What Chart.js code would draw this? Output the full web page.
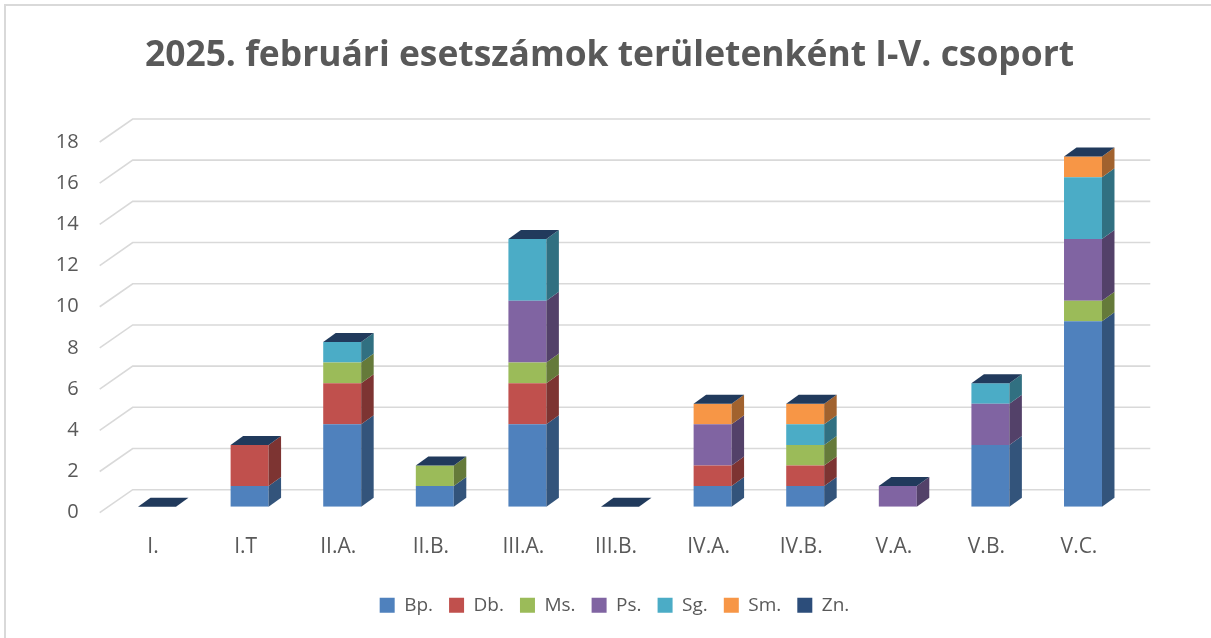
<!DOCTYPE html>
<html>
<head>
<meta charset="utf-8">
<script src="https://cdn.jsdelivr.net/npm/chart.js@4.4.1/dist/chart.umd.min.js"></script>
<style>
  html, body { margin: 0; padding: 0; background: #ffffff; }
  #wrap { position: relative; width: 1211px; height: 638px; }
</style>
</head>
<body>
<div id="wrap"><canvas id="c"></canvas></div>
<script>
// ---- data ----
const categories = ['I.', 'I.T', 'II.A.', 'II.B.', 'III.A.', 'III.B.', 'IV.A.', 'IV.B.', 'V.A.', 'V.B.', 'V.C.'];
const seriesNames = ['Bp.', 'Db.', 'Ms.', 'Ps.', 'Sg.', 'Sm.', 'Zn.'];
const bp = [0, 1, 4, 1, 4, 0, 1, 1, 0, 3, 9];
const db = [0, 2, 2, 0, 2, 0, 1, 1, 0, 0, 0];
const ms = [0, 0, 1, 1, 1, 0, 0, 1, 0, 0, 1];
const ps = [0, 0, 0, 0, 3, 0, 2, 0, 1, 2, 3];
const sg = [0, 0, 1, 0, 3, 0, 0, 1, 0, 1, 3];
const sm = [0, 0, 0, 0, 0, 0, 1, 1, 0, 0, 1];
const zn = [0, 0, 0, 0, 0, 0, 0, 0, 0, 0, 0];
const yTicks = [0, 2, 4, 6, 8, 10, 12, 14, 16, 18];
const titleText = '2025. februári esetszámok területenként I-V. csoport';

// ---- styles ----
const colors = ['#4F81BD', '#C0504D', '#9BBB59', '#8064A2', '#4BACC6', '#F79646', '#2C4D7A'];
const topCapColor = '#213A5C';
const DX = 12.5, DY = 9;
const LEGEND_SHIFT_Y = 7.5;
const LEGEND_SHIFT_X = 5;

function darken(hex, f) {
  const n = parseInt(hex.slice(1), 16);
  const r = Math.round(((n >> 16) & 255) * f);
  const g = Math.round(((n >> 8) & 255) * f);
  const b = Math.round((n & 255) * f);
  return 'rgb(' + r + ',' + g + ',' + b + ')';
}

const values = [bp, db, ms, ps, sg, sm, zn];
const datasets = seriesNames.map((name, i) => ({
  label: name,
  data: values[i],
  backgroundColor: colors[i],
  borderWidth: 0,
  categoryPercentage: 1.0,
  barPercentage: 0.41
}));

const bgPlugin = {
  id: 'bg',
  afterLayout(chart) {
    if (chart.legend) {
      chart.legend.top -= LEGEND_SHIFT_Y;
      chart.legend.bottom -= LEGEND_SHIFT_Y;
      chart.legend.left += LEGEND_SHIFT_X;
      chart.legend.right += LEGEND_SHIFT_X;
    }
  },
  beforeDraw(chart) {
    const ctx = chart.ctx;
    ctx.save();
    ctx.fillStyle = '#ffffff';
    ctx.fillRect(0, 0, chart.width, chart.height);
    ctx.strokeStyle = '#D9D9D9';
    ctx.lineWidth = 2;
    ctx.beginPath();
    ctx.moveTo(5, chart.height);
    ctx.lineTo(5, 5);
    ctx.lineTo(chart.width, 5);
    ctx.stroke();
    ctx.restore();
  }
};

const gridPlugin = {
  id: 'grid3d',
  beforeDatasetsDraw(chart) {
    const ctx = chart.ctx;
    const ys = chart.scales.y;
    const area = chart.chartArea;
    const backLeft = area.left + 22;
    const backRight = area.right + 21;
    const frontLeft = area.left - 11;
    ctx.save();
    ctx.strokeStyle = '#D9D9D9';
    ctx.lineWidth = 1.6;
    yTicks.forEach(v => {
      const p = ys.getPixelForValue(v);
      ctx.beginPath();
      ctx.moveTo(frontLeft, p + 6);
      ctx.lineTo(backLeft, p - 17);
      ctx.lineTo(backRight, p - 17);
      ctx.stroke();
    });
    ctx.restore();
  }
};

const barsPlugin = {
  id: 'bars3d',
  afterDatasetsDraw(chart) {
    const ctx = chart.ctx;
    ctx.save();
    const n = chart.data.datasets.length;
    for (let d = 0; d < n; d++) {
      const meta = chart.getDatasetMeta(d);
      const col = chart.data.datasets[d].backgroundColor;
      meta.data.forEach(bar => {
        const p = bar.getProps(['x', 'y', 'base', 'width'], true);
        const right = p.x + p.width / 2;
        const top = Math.min(p.y, p.base), bot = Math.max(p.y, p.base);
        if (bot - top > 0.5) {
          ctx.fillStyle = darken(col, 0.65);
          ctx.beginPath();
          ctx.moveTo(right, top);
          ctx.lineTo(right + DX, top - DY);
          ctx.lineTo(right + DX, bot - DY);
          ctx.lineTo(right, bot);
          ctx.closePath();
          ctx.fill();
        }
      });
    }
    const lastMeta = chart.getDatasetMeta(n - 1);
    lastMeta.data.forEach(bar => {
      const p = bar.getProps(['x', 'y', 'base', 'width'], true);
      const left = p.x - p.width / 2, right = p.x + p.width / 2;
      const top = Math.min(p.y, p.base);
      ctx.fillStyle = topCapColor;
      ctx.beginPath();
      ctx.moveTo(left, top);
      ctx.lineTo(left + DX, top - DY);
      ctx.lineTo(right + DX, top - DY);
      ctx.lineTo(right, top);
      ctx.closePath();
      ctx.fill();
    });
    ctx.restore();
  }
};

new Chart(document.getElementById('c'), {
  type: 'bar',
  data: { labels: categories, datasets: datasets },
  plugins: [bgPlugin, gridPlugin, barsPlugin],
  options: {
    responsive: true,
    maintainAspectRatio: false,
    animation: false,
    devicePixelRatio: 1,
    layout: { padding: { left: 8, right: 0, top: 0, bottom: 5.7 } },
    plugins: {
      title: {
        display: true,
        text: titleText,
        color: '#595959',
        font: { family: 'Open Sans', size: 35.4, weight: 'bold' },
        padding: { top: 35, bottom: 58.5 }
      },
      legend: {
        position: 'bottom',
        labels: {
          color: '#595959',
          font: { family: 'Open Sans', size: 19 },
          boxWidth: 15,
          boxHeight: 15,
          padding: 16
        }
      },
      tooltip: { enabled: false }
    },
    scales: {
      x: {
        stacked: true,
        grid: { display: false, drawTicks: false },
        border: { display: false },
        ticks: {
          color: '#595959',
          font: { family: 'Open Sans', size: 21, lineHeight: 0.6 },
          padding: 34,
          labelOffset: -4,
          maxRotation: 0,
          autoSkip: false
        }
      },
      y: {
        stacked: true,
        min: 0,
        max: 18,
        grid: { display: false, drawTicks: false },
        border: { display: false },
        afterFit(scale) { scale.width = 102.7; },
        afterBuildTicks(scale) { scale.ticks = yTicks.map(v => ({ value: v })); },
        ticks: {
          color: '#595959',
          font: { family: 'Open Sans', size: 20 },
          padding: 32,
          labelOffset: 6
        }
      },
      yRight: {
        type: 'linear',
        position: 'right',
        min: 0,
        max: 18,
        grid: { display: false, drawTicks: false },
        border: { display: false },
        ticks: { display: false },
        afterFit(scale) { scale.width = 81.7; }
      }
    }
  }
});
</script>
</body>
</html>
